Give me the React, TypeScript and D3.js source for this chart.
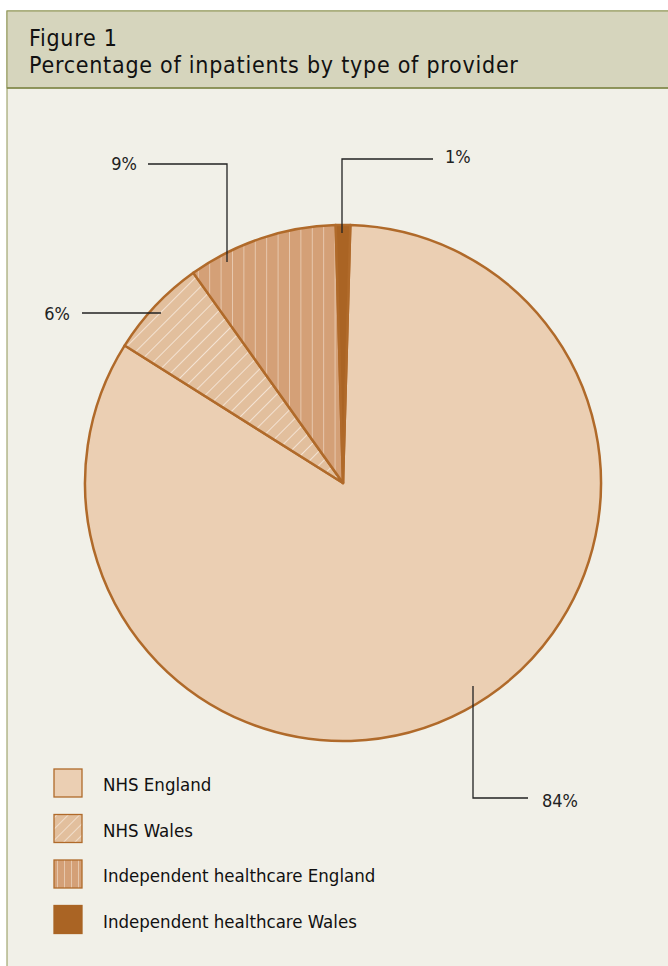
import React from "react";
import * as d3 from "d3";

const categories = ["NHS England", "NHS Wales", "Independent healthcare England", "Independent healthcare Wales"];
const values = [83.5, 6.2, 9.4, 0.9];
const valueLabels = ["84%", "6%", "9%", "1%"];

const W = 668, H = 966;
const cx = 343, cy = 483, R = 258;
const fills = ["#ebcfb3", "url(#diagBig)", "url(#vertBig)", "#aa6424"];
const legendFills = ["#ebcfb3", "url(#diagSmall)", "url(#vertSmall)", "#aa6424"];
const strokeC = "#b06a2a";
const fontFam = "'DejaVu Sans Condensed', 'DejaVu Sans', sans-serif";

// leader line layout per slice
const leaders = [
  { pts: [[473, 686], [473, 798], [528, 798]], tx: 542, ty: 807, anchor: "start" },
  { pts: [[161, 313], [82, 313]], tx: 70, ty: 320, anchor: "end" },
  { pts: [[227, 262], [227, 164], [148, 164]], tx: 137, ty: 170, anchor: "end" },
  { pts: [[342, 233], [342, 159], [433, 159]], tx: 445, ty: 163, anchor: "start" },
];

export default function App() {
  const total = d3.sum(values);
  const offset = (values[3] / total / 2) * 2 * Math.PI;
  const pie = d3.pie<number>().sort(null).startAngle(offset).endAngle(offset + 2 * Math.PI);
  const arcs = pie(values);
  const arc = d3.arc<d3.PieArcDatum<number>>().innerRadius(0).outerRadius(R);
  const line = d3.line();
  const legendY = d3.scaleBand<number>().domain(d3.range(categories.length)).range([769, 951]);

  return (
    <svg width={W} height={H} style={{ position: "absolute", left: 0, top: 0, display: "block" }}>
      <defs>
        <pattern id="diagBig" patternUnits="userSpaceOnUse" width={10} height={10} patternTransform="rotate(45)">
          <rect width={10} height={10} fill="#e2bf9d" />
          <line x1={0} y1={0} x2={0} y2={10} stroke="#f8ece0" strokeWidth={1.6} />
        </pattern>
        <pattern id="vertBig" patternUnits="userSpaceOnUse" width={11.4} height={10} x={3}>
          <rect width={11.4} height={10} fill="#d4a077" />
          <line x1={0} y1={0} x2={0} y2={10} stroke="#eed8c3" strokeWidth={1.4} />
        </pattern>
        <pattern id="diagSmall" patternUnits="userSpaceOnUse" width={8} height={8} patternTransform="rotate(45)">
          <rect width={8} height={8} fill="#e2bf9d" />
          <line x1={0} y1={0} x2={0} y2={8} stroke="#f8ece0" strokeWidth={1.4} />
        </pattern>
        <pattern id="vertSmall" patternUnits="userSpaceOnUse" width={7} height={10} x={1}>
          <rect width={7} height={10} fill="#d4a077" />
          <line x1={0} y1={0} x2={0} y2={10} stroke="#eed8c3" strokeWidth={1.4} />
        </pattern>
      </defs>
      <rect x={0} y={0} width={W} height={H} fill="#ffffff" />
      <rect x={7} y={11} width={W} height={H} fill="#f1f0e8" stroke="#8f9557" strokeWidth={1} />
      <rect x={7} y={11} width={W} height={77} fill="#d6d5bd" stroke="#8f9557" strokeWidth={1} />
      <line x1={7} x2={W} y1={88} y2={88} stroke="#7f8748" strokeWidth={1.5} />
      <text x={29} y={46} fontFamily={fontFam} fontSize={23} letterSpacing={0.75} fill="#111">Figure 1</text>
      <text x={29} y={73} fontFamily={fontFam} fontSize={23} letterSpacing={0.75} fill="#111">Percentage of inpatients by type of provider</text>

      <g transform={`translate(${cx},${cy})`}>
        {arcs.map((a, i) => (
          <path key={i} d={arc(a) || ""} fill={fills[i]} stroke={strokeC} strokeWidth={2.5} strokeLinejoin="round" />
        ))}
      </g>

      {leaders.map((l, i) => (
        <g key={i}>
          <path d={line(l.pts as [number, number][]) || ""} fill="none" stroke="#222" strokeWidth={1.3} />
          <text x={l.tx} y={l.ty} textAnchor={l.anchor as any} fontFamily={fontFam} fontSize={18} fill="#222">{valueLabels[i]}</text>
        </g>
      ))}

      {categories.map((c, i) => {
        const y = legendY(i)!;
        return (
          <g key={c}>
            <rect x={54} y={y} width={28} height={28} fill={legendFills[i]} stroke={i === 3 ? "#aa6424" : strokeC} strokeWidth={1.3} />
            <text x={103} y={y + 22} fontFamily={fontFam} fontSize={18.5} fill="#111">{c}</text>
          </g>
        );
      })}
    </svg>
  );
}
